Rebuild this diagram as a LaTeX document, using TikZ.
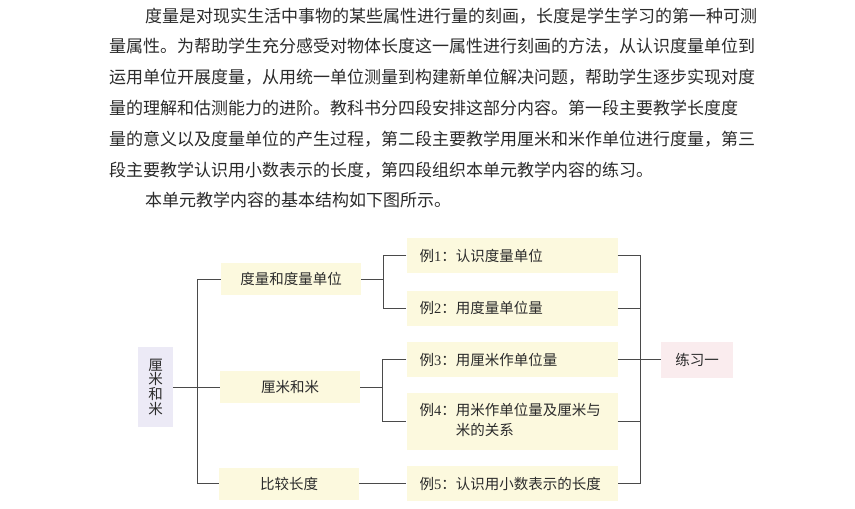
\documentclass[tikz,border=0pt]{standalone}
\usepackage{fontspec}
\setmainfont{Noto Sans CJK SC}
\newfontfamily\lat{Liberation Serif}
\XeTeXlinebreaklocale "zh"
\XeTeXlinebreakskip=0pt plus 4pt
\definecolor{txt}{HTML}{2B2B2B}
\definecolor{linec}{HTML}{4A4A4A}
\definecolor{yel}{HTML}{FCF9DE}
\definecolor{lav}{HTML}{ECEAF6}
\definecolor{pnk}{HTML}{FAECEE}
\tikzset{
  para/.style={anchor=base west, inner sep=0pt, text=txt, font=\fontsize{17}{20}\selectfont},
  midbox/.style={fill=yel, inner sep=0pt, minimum width=140pt, minimum height=32pt, text=txt, font=\fontsize{14.5}{17}\selectfont},
  exbox/.style={fill=yel, inner xsep=13pt, inner ysep=0pt, text width=185pt, align=left, minimum height=35pt, text=txt, font=\fontsize{14.5}{20}\selectfont},
  lavbox/.style={fill=lav, inner sep=0pt, minimum width=35pt, minimum height=80pt, align=center, text=txt, font=\fontsize{14.5}{14.6}\selectfont},
  pnkbox/.style={fill=pnk, inner sep=0pt, minimum width=72pt, minimum height=36pt, text=txt, font=\fontsize{14.5}{17}\selectfont},
  conn/.style={draw=linec, line width=0.9pt}
}
\begin{document}
\begin{tikzpicture}[x=1pt,y=-1pt]
\useasboundingbox (0,0) rectangle (855,509);
\fill[white] (0,0) rectangle (855,509);
% paragraph
\node[para] (t1) at (145,22.0) {\makebox[628pt][s]{度量是对现实生活中事物的某些属性进行量的刻画，长度是学生学习的第一种可测}};
\node[para] (t2) at (109,52.8) {\makebox[664pt][s]{量属性。为帮助学生充分感受对物体长度这一属性进行刻画的方法，从认识度量单位到}};
\node[para] (t3) at (109,83.6) {\makebox[664pt][s]{运用单位开展度量，从用统一单位测量到构建新单位解决问题，帮助学生逐步实现对度}};
\node[para] (t4) at (109,114.4) {\makebox[664pt][s]{量的理解和估测能力的进阶。教科书分四段安排这部分内容。第一段主要教学长度度}};
\node[para] (t5) at (109,145.2) {\makebox[664pt][s]{量的意义以及度量单位的产生过程，第二段主要教学用厘米和米作单位进行度量，第三}};
\node[para] (t6) at (109,176.0) {段主要教学认识用小数表示的长度，第四段组织本单元教学内容的练习。};
\node[para] (t7) at (145,206.8) {本单元教学内容的基本结构如下图所示。};
% diagram nodes
\node[lavbox] (A) at (155.5,387) {厘\\米\\和\\米};
\node[midbox] (B1) at (291,279) {度量和度量单位};
\node[midbox] (B2) at (290,387) {厘米和米};
\node[midbox] (B3) at (289,483.5) {比较长度};
\node[exbox] (E1) at (512,255.5) {例{\lat 1}：认识度量单位};
\node[exbox] (E2) at (512,308) {例{\lat 2}：用度量单位量};
\node[exbox] (E3) at (512,359.5) {例{\lat 3}：用厘米作单位量};
\node[exbox, minimum height=57pt] (E4) at (512,421.5) {\begin{tabular}{@{}l@{}l@{}}例{\lat 4}：&用米作单位量及厘米与\\&米的关系\end{tabular}};
\node[exbox] (E5) at (512,483.5) {例{\lat 5}：认识用小数表示的长度};
\node[pnkbox] (P) at (697,359.5) {练习一};
% junction columns
\coordinate (k1) at (197,0);
\coordinate (k2) at (383,0);
\coordinate (k3) at (382,0);
\coordinate (k4) at (640,0);
% level 1
\draw[conn] (A.east) -- (A.east -| k1);
\draw[conn] (B1.west) -- (B1.west -| k1) -- (B3.west -| k1) -- (B3.west);
\draw[conn] (B2.west) -- (B2.west -| k1);
% level 2
\draw[conn] (B1.east) -- (B1.east -| k2);
\draw[conn] (E1.west) -- (E1.west -| k2) -- (E2.west -| k2) -- (E2.west);
\draw[conn] (B2.east) -- (B2.east -| k3);
\draw[conn] (E3.west) -- (E3.west -| k3) -- (E4.west -| k3) -- (E4.west);
\draw[conn] (B3.east) -- (E5.west);
% level 3
\draw[conn] (E1.east) -- (E1.east -| k4) -- (E5.east -| k4) -- (E5.east);
\draw[conn] (E2.east) -- (E2.east -| k4);
\draw[conn] (E3.east) -- (E3.east -| k4);
\draw[conn] (E4.east) -- (E4.east -| k4);
\draw[conn] (E3.east -| k4) -- (P.west);
\end{tikzpicture}
\end{document}
